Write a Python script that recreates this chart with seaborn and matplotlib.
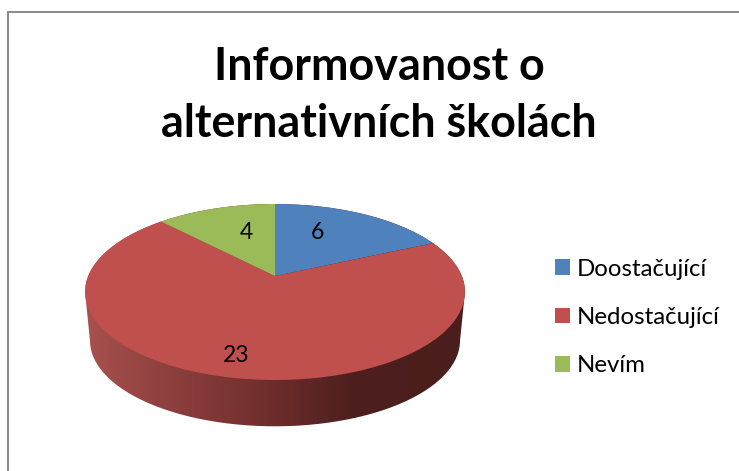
import numpy as np
import seaborn as sns
import matplotlib.pyplot as plt
from matplotlib.colors import LinearSegmentedColormap
from matplotlib.patches import Patch, PathPatch
from matplotlib.path import Path
from matplotlib.transforms import Transform

title = 'Informovanost o\nalternativních školách'
categories = ['Doostačující', 'Nedostačující', 'Nevím']
values = [6, 23, 4]
colors = ['#4F81BD', '#C0504D', '#9BBB59']

# value labels, pixel positions
label_pos = [(317, 233), (236, 356), (246, 233)]


# tilted disc: unit circle -> pixel coords, with a bit of perspective
class Tilt(Transform):
    input_dims = 2
    output_dims = 2

    def __init__(self, cy, scale=1.0, k=0.1818):
        super().__init__()
        self.cy = cy
        self.scale = scale
        self.k = k

    def transform_non_affine(self, xy):
        xy = np.asarray(xy, dtype=float)
        w = 1 + self.k * xy[:, 1]
        x = 275 + self.scale * 186.8 * xy[:, 0] / w
        y = self.cy - self.scale * 85.1 * xy[:, 1] / w
        return np.column_stack([x, y])


sns.set_theme(style='white')
plt.rcParams['font.family'] = ['Lato', 'DejaVu Sans']

fig = plt.figure(figsize=(7.39, 4.71), dpi=100)
ax = fig.add_axes([8 / 739, 0, 731 / 739, 459 / 471])

top = Tilt(276)
wedges, _ = ax.pie(values, colors=sns.color_palette(colors), startangle=90,
                   counterclock=False, wedgeprops={'linewidth': 0})
for w in wedges:
    w.set_transform(top + ax.transData)

# side wall of the pie
base = Tilt(325, scale=0.974)
t0 = np.arcsin(top.k)
upper = np.linspace(-t0, np.pi + t0, 120)
lower = np.linspace(np.pi + t0, 2 * np.pi - t0, 120)
outline = np.vstack([
    top.transform(np.column_stack([np.cos(upper), np.sin(upper)])),
    base.transform(np.column_stack([np.cos(lower), np.sin(lower)])),
])
wall_cmap = LinearSegmentedColormap.from_list('wall', [
    (0.0, '#A8524F'), (0.17, '#934341'), (0.49, '#6E2D2C'),
    (0.70, '#4E1F1E'), (1.0, '#4A1E1C')])
wall = ax.imshow(np.linspace(0, 1, 256)[None, :], cmap=wall_cmap, aspect='auto',
                 extent=(85, 465, 430, 200), zorder=0)
wall.set_clip_path(PathPatch(Path(outline), transform=ax.transData))

for v, (x, y) in zip(values, label_pos):
    ax.text(x, y, str(v), ha='center', va='center', fontsize=16.5, color='black')

ax.text(379, 95.5, title, ha='center', va='center', fontsize=32.3, fontweight='bold',
        color='black', linespacing=1.47)

handles = [Patch(color=c, lw=0) for c in colors]
ax.legend(handles, categories, loc='upper left', frameon=False, fontsize=17.3,
          bbox_to_anchor=(533, 237), bbox_transform=ax.transData,
          handlelength=0.63, handleheight=0.63, handletextpad=0.3,
          labelspacing=1.14, labelcolor='black')

ax.set_aspect('auto')
ax.set_xlim(8, 739)
ax.set_ylim(471, 12)
ax.set_frame_on(True)
sns.despine(ax=ax, right=True, bottom=True, left=False, top=False)
for side in ['left', 'top']:
    ax.spines[side].set_color('#888888')
    ax.spines[side].set_linewidth(1.4)

fig.savefig('out.png', dpi=100)
